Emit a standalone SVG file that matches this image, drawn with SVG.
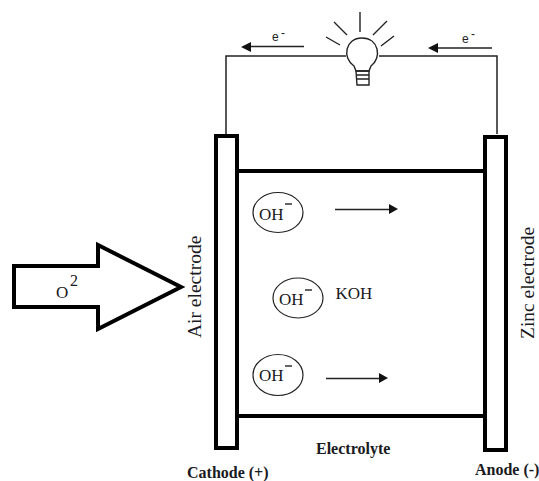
<svg xmlns="http://www.w3.org/2000/svg" width="539" height="481" viewBox="0 0 539 481">
<style>
.t{font-family:"Liberation Serif","Times New Roman",serif;fill:#1a1a22}
.b{font-weight:bold;font-size:16px}
.s{font-family:"Liberation Sans",Arial,sans-serif;fill:#222;font-size:12px}
.o{font-size:17px}
.e{font-size:19.500px}
.thick{fill:#fff;stroke:#000;stroke-width:4}
.wire{fill:none;stroke:#222;stroke-width:1.500}
.thin{fill:none;stroke:#222;stroke-width:1.400}
.ion{fill:#fff;stroke:#222;stroke-width:1.200}
.ar{fill:#111}
</style>
<g id="connectors">
<path class="wire" d="M226 134V56H346M379 56H497V134"/>
<path class="thin" d="M304 46.500H245"/><path class="ar" d="M241 47L251 42V52Z"/>
<path class="thin" d="M492 48H432"/><path class="ar" d="M428 48L438 43V53Z"/>
<path class="thin" d="M335 209.500H392"/><path class="ar" d="M398 209L389 204V214Z"/>
<path class="thin" d="M326 378.500H383"/><path class="ar" d="M388 378L379 373V383Z"/>
<path d="M237 171H485M237 416H485" stroke="#000" stroke-width="4" fill="none"/>
</g>
<g id="bulb">
<path class="thin" d="M360 12V32M387 21L373 35M394 36L381 46M334 22L347 35M326 37L340 45"/>
<path class="thin" d="M354 66C342 58 345 38 362 38C379 38 382 58 371 66L369 71H356Z"/>
<path class="thin" d="M356 71H369V85H357ZM356 75H369M356 79H369"/>
</g>
<g id="cathode"><rect class="thick" x="216" y="136" width="21" height="312"/></g>
<g id="anode"><rect class="thick" x="485" y="137" width="21" height="313"/></g>
<g id="o2-arrow"><path class="thick" d="M14 266H98V245L181 287L98 329V307H14Z"/>
<text class="t" x="56" y="298" font-size="17">O</text><text class="t" x="70" y="286" font-size="16">2</text></g>
<g id="ion1"><ellipse class="ion" cx="278" cy="212.500" rx="25" ry="20"/><text class="t o" x="259" y="220">OH</text><path class="thin" d="M285 204H292"/></g>
<g id="ion2"><ellipse class="ion" cx="298" cy="298" rx="25" ry="20"/><text class="t o" x="279" y="305">OH</text><path class="thin" d="M305 290H312"/></g>
<g id="ion3"><ellipse class="ion" cx="278" cy="375" rx="25" ry="20.500"/><text class="t o" x="259" y="381">OH</text><path class="thin" d="M285 366H292"/></g>
<text class="t o" x="335.500" y="299">KOH</text>
<text class="s" x="272" y="41">e</text><text class="s" x="281" y="37">-</text>
<text class="s" x="462" y="43">e</text><text class="s" x="471" y="38">-</text>
<text class="t e" transform="translate(201,338) rotate(-90)">Air electrode</text>
<text class="t e" transform="translate(534,339) rotate(-90)">Zinc electrode</text>
<text class="t b" x="316" y="454">Electrolyte</text>
<text class="t b" x="187" y="478">Cathode (+)</text>
<text class="t b" x="475" y="475">Anode (-)</text>
</svg>
